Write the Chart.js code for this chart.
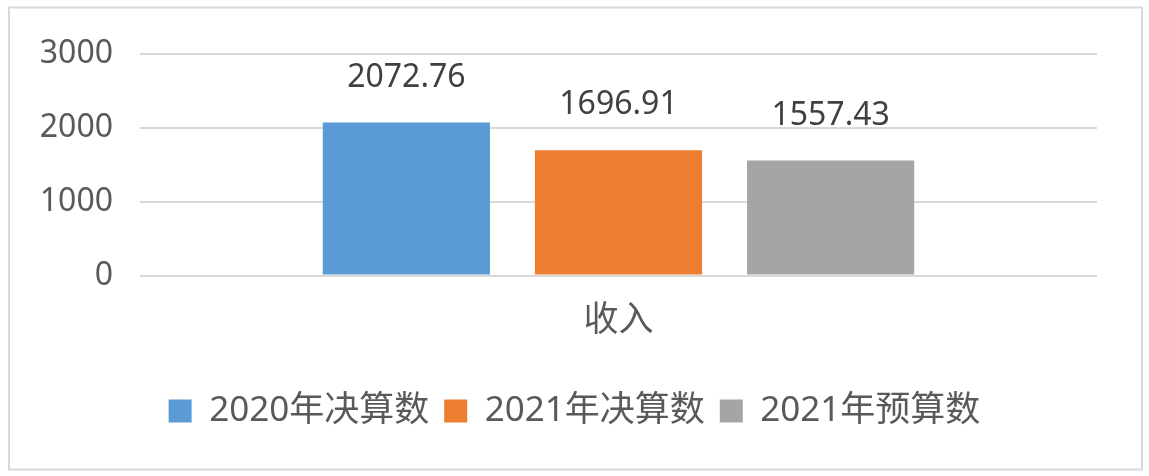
<!DOCTYPE html>
<html>
<head>
<meta charset="utf-8">
<script src="https://cdn.jsdelivr.net/npm/chart.js@4/dist/chart.umd.min.js"></script>
<style>
  html, body { margin: 0; padding: 0; background: #ffffff; }
  #wrap { width: 1149px; height: 476px; position: relative; }
</style>
</head>
<body>
<div id="wrap"><canvas id="c" width="1149" height="476"></canvas></div>
<script>
const categories = ['收入'];
const seriesNames = ['2020年决算数', '2021年决算数', '2021年预算数'];
const values2020Final = [2072.76];
const values2021Final = [1696.91];
const values2021Budget = [1557.43];
const seriesColors = ['#5b9bd5', '#ed7d31', '#a5a5a5'];
const yTicks = [0, 1000, 2000, 3000];
const yTickLabels = ['0', '1000', '2000', '3000'];

const borderPlugin = {
  id: 'outerBorder',
  beforeDraw(chart) {
    const ctx = chart.ctx;
    ctx.save();
    ctx.fillStyle = '#ffffff';
    ctx.fillRect(0, 0, chart.width, chart.height);
    ctx.strokeStyle = '#d9d9d9';
    ctx.lineWidth = 2;
    ctx.strokeRect(9, 7.5, 1133, 462);
    ctx.restore();
  }
};

const labelPlugin = {
  id: 'valueLabels',
  afterDatasetsDraw(chart) {
    const ctx = chart.ctx;
    ctx.save();
    ctx.font = '32px "Noto Sans", "Noto Sans CJK SC", sans-serif';
    ctx.fillStyle = '#404040';
    ctx.textAlign = 'center';
    ctx.textBaseline = 'middle';
    chart.data.datasets.forEach((ds, i) => {
      const meta = chart.getDatasetMeta(i);
      meta.data.forEach((el, j) => {
        const v = ds.data[j];
        ctx.fillText(v.toFixed(2), el.x, el.y - 45);
      });
    });
    ctx.restore();
  }
};

const dataArrays = [values2020Final, values2021Final, values2021Budget];

new Chart(document.getElementById('c'), {
  type: 'bar',
  data: {
    labels: categories,
    datasets: seriesNames.map((name, i) => ({
      label: name,
      data: dataArrays[i],
      backgroundColor: seriesColors[i],
      borderWidth: 0,
      categoryPercentage: 0.665,
      barPercentage: 0.788
    }))
  },
  options: {
    responsive: false,
    animation: false,
    layout: { padding: { left: 0, right: 0, top: 54, bottom: 37.5 } },
    plugins: {
      tooltip: { enabled: false },
      legend: {
        position: 'bottom',
        labels: {
          boxWidth: 23,
          boxHeight: 23,
          padding: 15,
          color: '#595959',
          font: { family: '"Noto Sans", "Noto Sans CJK SC", sans-serif', size: 35 }
        }
      }
    },
    scales: {
      x: {
        grid: { display: false, drawTicks: false },
        border: { display: false },
        ticks: {
          color: '#595959',
          padding: 25,
          font: { family: '"Noto Sans", "Noto Sans CJK SC", sans-serif', size: 35 }
        },
        afterFit(scale) { scale.height = 103; }
      },
      y: {
        min: 0,
        max: 3000,
        afterBuildTicks(scale) { scale.ticks = yTicks.map(v => ({ value: v })); },
        grid: { color: '#d9d9d9', lineWidth: 2, drawTicks: false },
        border: { display: false },
        ticks: {
          color: '#595959',
          padding: 27,
          font: { family: '"Noto Sans", sans-serif', size: 32 },
          callback(value) { return yTickLabels[yTicks.indexOf(value)]; }
        },
        afterFit(scale) { scale.width = 140; }
      },
      ySpacer: {
        type: 'linear',
        position: 'right',
        display: true,
        grid: { display: false, drawTicks: false },
        border: { display: false },
        ticks: { display: false },
        afterFit(scale) { scale.width = 52; }
      }
    }
  },
  plugins: [borderPlugin, labelPlugin]
});
</script>
</body>
</html>
